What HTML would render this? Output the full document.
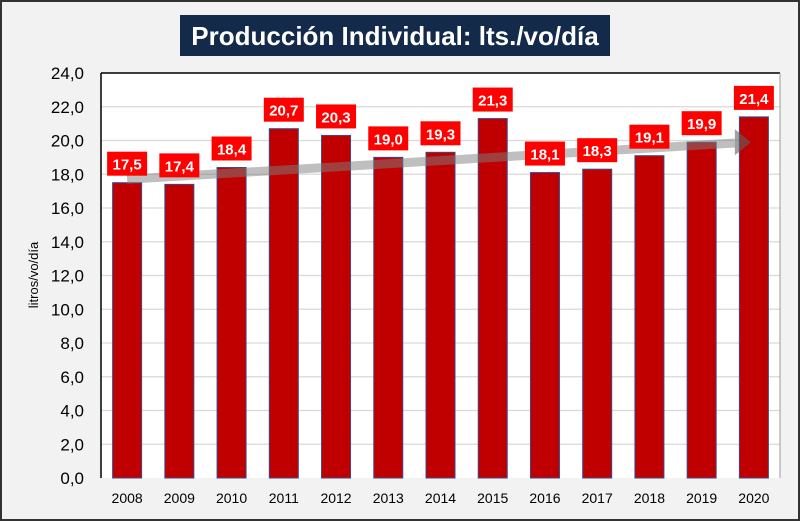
<!DOCTYPE html>
<html><head><meta charset="utf-8"><style>
html,body{margin:0;padding:0;background:#f2f2f2}
svg{display:block;font-family:"Liberation Sans",sans-serif}
</style></head><body>
<svg id="c" width="800" height="521">
<rect x="1" y="1" width="798" height="519" fill="#f2f2f2" stroke="#333" stroke-width="2"/>
<rect x="180" y="15" width="430" height="41" fill="#132a4a"/>
<text x="395" y="45" text-anchor="middle" fill="#fff" font-size="26" font-weight="bold">Producción Individual: lts./vo/día</text>
<rect x="101" y="73" width="679" height="405" fill="#fff"/>
<g id="grid"></g>
<line x1="101" y1="73" x2="780" y2="73" stroke="#000" stroke-width="1.5"/>
<line x1="101" y1="73" x2="101" y2="478" stroke="#000" stroke-width="1.5"/>
<line x1="780" y1="73" x2="780" y2="478" stroke="#999" stroke-width="1"/>
<g id="bars"></g>
<g id="trend"></g>
<g id="labels"></g>
<text transform="translate(38,275) rotate(-90)" text-anchor="middle" font-size="13" fill="#000">litros/vo/día</text>
</svg>
<script>
const categories=["2008","2009","2010","2011","2012","2013","2014","2015","2016","2017","2018","2019","2020"];
const values=[17.5,17.4,18.4,20.7,20.3,19.0,19.3,21.3,18.1,18.3,19.1,19.9,21.4];
const yTicks=[0,2,4,6,8,10,12,14,16,18,20,22,24];
const trendStart=17.7, trendEnd=19.9;
const NS="http://www.w3.org/2000/svg";
const L=101,R=780,T=73,B=478,yMax=24;
const y=v=>B-(v/yMax)*(B-T);
const bw=(R-L)/categories.length;
const xc=i=>L+bw*(i+0.5);
const fmt=v=>v.toFixed(1).replace('.',',');
function mk(tag,attrs,parent){const e=document.createElementNS(NS,tag);for(const k in attrs)e.setAttribute(k,attrs[k]);parent.appendChild(e);return e;}
const grid=document.getElementById('grid'),svg=document.getElementById('c');
yTicks.forEach(t=>{
  if(t>0&&t<yMax){const g=mk('line',{x1:L,x2:R,y1:y(t),y2:y(t),stroke:'#d9d9d9','stroke-width':1.2},grid);
  
  }
  const tx=mk('text',{x:84,y:y(t)+6,'text-anchor':'end','font-size':17,fill:'#000'},svg);
  tx.textContent=fmt(t);
  
  
});
const bars=document.getElementById('bars'),labels=document.getElementById('labels');
values.forEach((v,i)=>{
  const b=mk('rect',{x:xc(i)-14.5,y:y(v),width:29,height:B-y(v),fill:'#c00000',stroke:'#3a4a8a','stroke-width':1},bars);
  
  
  const lb=mk('rect',{x:xc(i)-20,y:y(v)-31,width:40,height:24,fill:'#ff0000'},labels);
  
  
  const lt=mk('text',{x:xc(i),y:y(v)-13,'text-anchor':'middle','font-size':15,'font-weight':'bold',fill:'#fff'},labels);
  lt.textContent=fmt(v);
  
  
  const xt=mk('text',{x:xc(i),y:503,'text-anchor':'middle','font-size':14,fill:'#000'},svg);
  xt.textContent=categories[i];
  
  
});
const tr=document.getElementById('trend');
const x1=xc(0),y1=y(trendStart),x2=xc(12)-3,y2=y(trendEnd);
const ln=mk('line',{x1:x1,y1:y1,x2:x2-16,y2:y2+0.8,stroke:'#808080','stroke-width':9,opacity:0.5},tr);


const ah=mk('polygon',{points:`${x2},${y2} ${x2-16},${y2-13} ${x2-16},${y2+13}`,fill:'#606060',opacity:0.6},tr);


</script>
</body></html>
